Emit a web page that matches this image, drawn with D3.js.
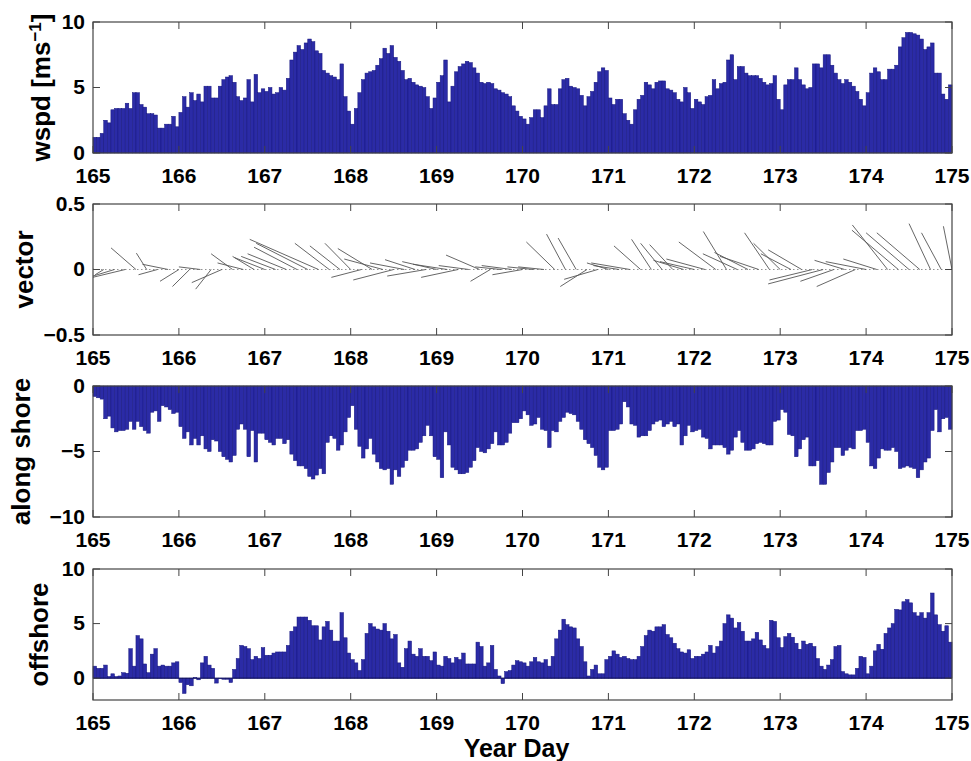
<!DOCTYPE html>
<html>
<head>
<meta charset="utf-8">
<script src="https://cdn.jsdelivr.net/npm/d3@7/dist/d3.min.js"></script>
<style>
body { margin: 0; background: #fff; }
svg { display: block; font-family: "Liberation Sans", Arial, Helvetica, sans-serif; font-weight: bold; }
</style>
</head>
<body>
<div id="chart"></div>
<script>
// hourly records, year day 165 to 175, one row per day
var startDay = 165, perDay = 24;
var dayTicks = [165, 166, 167, 168, 169, 170, 171, 172, 173, 174, 175];

var wspd = [
  1.2,1.2,1.5,2.5,2.3,3.3,3.4,3.4,3.4,3.8,3.4,4.6,4.6,3.7,3.5,3.0,3.0,2.9,1.9,1.9,2.2,2.2,2.8,2.0,
  3.1,4.3,3.5,4.6,4.0,4.5,3.9,5.1,5.1,4.2,4.2,5.1,5.6,5.8,5.9,5.4,4.3,4.0,4.2,5.6,3.9,6.0,4.6,4.9,
  4.7,5.0,4.5,4.6,5.0,4.8,5.7,7.1,7.7,8.2,7.9,8.4,8.7,8.5,7.8,7.6,6.3,6.1,5.9,5.8,5.6,6.8,4.3,3.2,
  2.2,3.4,4.6,5.6,6.1,6.2,6.3,6.7,7.2,8.0,7.6,8.2,7.3,7.0,6.3,5.6,5.7,5.4,5.2,5.1,5.0,4.3,3.4,4.2,
  5.4,5.9,7.1,3.9,5.1,6.2,6.6,6.8,7.0,6.9,6.5,6.1,5.4,5.3,5.4,5.3,4.9,4.8,4.6,4.5,4.3,3.6,3.2,2.8,
  2.6,2.2,2.7,3.3,3.3,2.7,3.6,4.9,3.7,3.7,4.9,5.6,5.7,5.1,5.0,4.9,4.4,3.6,4.3,4.7,5.4,6.2,6.5,6.3,
  4.2,3.7,4.1,4.1,3.0,2.5,2.2,3.3,4.1,4.4,5.4,5.2,4.9,5.4,5.5,5.5,4.9,4.8,4.6,4.1,3.9,5.0,4.6,3.4,
  4.1,3.9,3.7,4.3,4.4,5.6,4.9,5.3,5.4,7.1,7.5,5.6,6.6,6.6,6.1,5.9,5.9,5.9,5.7,5.4,5.2,5.3,5.9,4.1,
  3.3,5.2,5.6,5.6,6.5,5.6,5.2,4.9,5.0,6.8,6.8,6.5,7.5,7.5,6.7,6.1,5.6,5.3,5.6,5.4,5.1,4.7,4.1,3.6,
  4.6,6.1,6.5,6.2,5.6,5.6,6.4,6.4,6.7,8.1,8.8,9.2,9.2,9.1,9.0,8.7,7.9,8.1,8.4,6.1,6.1,4.5,4.1,5.2
];

var alongShore = [
  -0.8,-0.9,-1.0,-2.5,-2.3,-3.2,-3.5,-3.4,-3.4,-3.3,-2.7,-3.3,-2.7,-3.1,-3.4,-3.6,-2.0,-1.9,-2.7,-1.5,-1.6,-1.8,-2.1,-2.0,
  -3.1,-4.0,-3.5,-4.5,-4.0,-4.5,-3.8,-4.8,-5.0,-4.1,-4.2,-5.0,-5.4,-5.6,-5.8,-5.3,-3.3,-2.9,-3.3,-5.4,-3.4,-5.8,-3.6,-3.6,
  -4.1,-4.3,-4.5,-4.0,-4.0,-4.4,-4.1,-5.2,-5.7,-6.1,-6.1,-6.3,-6.9,-7.1,-6.8,-6.3,-6.7,-4.3,-3.8,-4.0,-4.9,-4.5,-3.5,-2.4,
  -1.5,-3.3,-4.6,-5.5,-4.8,-4.0,-5.2,-5.8,-6.3,-6.4,-6.3,-7.5,-6.4,-6.9,-6.2,-5.7,-4.9,-4.9,-4.8,-4.3,-3.8,-3.0,-3.8,-5.4,
  -5.6,-7.0,-3.5,-4.5,-6.2,-6.4,-6.7,-6.7,-6.6,-6.2,-5.7,-4.7,-5.0,-5.1,-4.8,-4.4,-3.5,-4.5,-4.5,-4.3,-3.6,-2.8,-2.8,-2.5,
  -1.9,-2.2,-3.0,-2.9,-2.4,-3.3,-3.4,-4.7,-3.4,-3.5,-2.7,-2.4,-2.0,-2.1,-2.2,-2.7,-3.3,-4.1,-4.4,-4.7,-5.3,-6.2,-6.4,-6.2,
  -3.4,-3.4,-3.3,-2.9,-1.2,-1.6,-2.9,-3.0,-3.9,-3.8,-3.8,-3.4,-2.9,-2.7,-2.6,-3.1,-2.9,-2.7,-3.1,-2.9,-4.5,-3.8,-3.0,-3.5,
  -3.4,-3.3,-3.9,-4.0,-4.8,-4.5,-4.5,-4.5,-4.7,-5.2,-4.9,-3.9,-3.4,-4.3,-4.9,-4.9,-4.8,-4.4,-4.3,-4.4,-4.5,-4.5,-2.7,-2.6,
  -1.8,-2.0,-3.7,-3.8,-5.4,-4.8,-4.1,-3.9,-6.1,-6.1,-5.7,-7.5,-7.5,-6.6,-5.8,-4.7,-4.7,-5.3,-4.9,-4.7,-4.8,-3.4,-3.4,-3.3,
  -4.3,-6.1,-6.3,-5.5,-4.8,-4.9,-4.9,-4.7,-5.0,-6.3,-6.2,-6.1,-6.2,-6.3,-7.0,-6.4,-5.8,-5.5,-3.4,-1.8,-3.5,-2.5,-2.4,-3.3
];

var offShore = [
  1.1,0.9,0.9,1.2,0.15,0.4,0.15,0.2,0.5,0.45,2.7,1.1,3.9,3.6,1.3,0.5,2.2,2.7,1.1,1.2,1.1,1.1,1.4,1.5,
  -0.4,-1.4,-0.6,-0.7,0.05,-0.15,1.4,2.0,1.2,0.9,-0.45,-0.05,-0.1,-0.1,-0.4,0.8,1.8,3.0,2.9,2.7,1.7,2.0,1.8,2.8,
  2.1,2.1,2.3,2.4,2.4,2.4,3.0,4.3,4.7,5.6,5.6,5.6,5.3,4.8,4.8,3.5,4.7,5.2,4.4,3.4,3.4,6.0,3.7,2.3,
  1.7,1.4,0.7,1.7,4.1,5.0,4.7,4.5,4.4,5.0,4.3,3.6,4.0,1.4,1.0,2.7,3.4,2.2,2.0,2.7,2.0,2.0,1.6,2.4,
  1.2,1.1,2.0,1.8,1.4,1.9,1.7,2.3,1.3,1.3,1.3,3.3,2.9,1.1,1.4,3.0,0.8,0.2,-0.5,0.6,0.7,1.2,1.6,1.5,
  1.4,1.1,1.5,1.9,1.5,1.4,1.7,1.1,2.0,3.6,4.4,5.4,4.9,4.7,4.6,3.6,2.9,1.5,0.2,0.8,1.2,0.4,0.4,1.7,
  2.0,2.5,2.2,1.9,2.0,1.8,1.7,1.7,2.0,2.9,3.9,4.4,4.3,4.7,4.7,4.9,4.0,3.7,3.2,2.7,2.4,2.3,2.6,1.8,
  2.0,2.0,2.2,2.4,3.0,2.3,2.9,3.4,5.0,5.8,5.5,4.6,5.1,4.3,3.4,3.4,3.6,4.2,3.5,3.0,2.7,5.3,5.2,3.7,
  2.8,3.8,4.1,3.75,3.2,2.65,3.4,3.1,3.2,2.9,1.8,1.1,0.8,1.2,1.7,2.9,3.0,0.6,0.4,0.3,0.3,0.9,2.0,1.9,
  0.4,1.1,2.5,3.1,2.65,4.1,4.6,5.0,6.3,6.25,7.0,7.2,6.9,6.0,5.7,6.0,5.5,6.0,7.8,5.8,4.9,4.3,4.8,3.3
];

// feather vectors every 3 hours (165.000 ... 175.000): x part in days, y part in axis units
var vecStep = 3;
var vecDx = [
  -0.02,-0.10,-0.25,-0.38,-0.29,-0.12,-0.22,-0.30,
  -0.22,-0.20,-0.25,-0.18,-0.35,-0.25,-0.30,-0.25,
  -0.35,-0.40,-0.45,-0.50,-0.60,-0.80,-0.40,-0.35,
  -0.30,-0.35,-0.40,-0.45,-0.47,-0.40,-0.35,-0.45,
  -0.40,-0.40,-0.43,-0.35,-0.39,-0.23,-0.30,-0.35,
  -0.35,-0.30,-0.30,-0.33,-0.22,-0.21,-0.31,-0.39,
  -0.25,-0.30,-0.45,-0.31,-0.23,-0.25,-0.27,-0.35,
  -0.40,-0.45,-0.43,-0.27,-0.40,-0.39,-0.45,-0.29,
  -0.31,-0.35,-0.39,-0.50,-0.64,-0.39,-0.35,-0.45,
  -0.47,-0.39,-0.41,-0.54,-0.50,-0.50,-0.25,-0.23,
  -0.10
];
var vecDy = [
  0.05,-0.04,-0.05,-0.06,0.165,0.125,-0.04,0.04,
  -0.09,-0.13,0.02,-0.15,-0.10,0.12,0.05,0.10,
  0.09,0.10,0.12,0.17,0.20,0.23,0.20,0.18,
  0.20,-0.06,0.16,0.08,-0.08,0.05,0.075,-0.05,
  0.06,0.04,-0.06,0.03,0.11,-0.09,0.02,0.03,
  -0.04,0.02,0.02,0.21,0.27,0.24,-0.13,-0.075,
  0.05,0.03,0.05,0.18,0.23,0.20,0.19,0.07,
  0.06,0.08,0.21,0.29,0.12,0.13,0.10,0.28,
  0.20,0.12,0.15,-0.08,-0.11,-0.09,0.07,-0.13,
  0.06,0.08,0.34,0.30,0.28,0.28,0.35,0.28,
  0.33
];

//LAYOUT
var W = 971, H = 761;
var left = 93, right = 952;
var panelH = 131;
var barFill = '#2b2ba6', barEdge = '#14147e';

var svg = d3.select('#chart').append('svg')
  .attr('width', W)
  .attr('height', H);

var x = d3.scaleLinear()
  .domain([165, 175])
  .range([left, right]);

function fmt(d) {
  return (d < 0 ? '\u2212' : '') + Math.abs(d);
}

function frame(top, y, yTicks, labelX, labelParts) {
  var g = svg.append('g');
  var bottom = top + panelH;

  // inward ticks, MATLAB style, on all four sides
  dayTicks.forEach(function (d) {
    g.append('line').attr('x1', x(d)).attr('x2', x(d)).attr('y1', bottom).attr('y2', bottom - 7);
    g.append('line').attr('x1', x(d)).attr('x2', x(d)).attr('y1', top).attr('y2', top + 7);
  });
  yTicks.forEach(function (v) {
    g.append('line').attr('x1', left).attr('x2', left + 7).attr('y1', y(v)).attr('y2', y(v));
    g.append('line').attr('x1', right).attr('x2', right - 7).attr('y1', y(v)).attr('y2', y(v));
  });
  g.selectAll('line').attr('stroke', '#444').attr('stroke-width', 1);

  g.append('rect')
    .attr('x', left).attr('y', top)
    .attr('width', right - left).attr('height', panelH)
    .attr('fill', 'none').attr('stroke', '#444').attr('stroke-width', 1.2);

  g.selectAll('.xt').data(dayTicks).enter().append('text')
    .attr('x', function (d) { return x(d); })
    .attr('y', bottom + 30)
    .attr('text-anchor', 'middle')
    .attr('font-size', '21px')
    .text(function (d) { return d; });

  g.selectAll('.yt').data(yTicks).enter().append('text')
    .attr('x', left - 8)
    .attr('y', function (v) { return y(v) + 6.5; })
    .attr('text-anchor', 'end')
    .attr('font-size', '21px')
    .text(fmt);

  var lab = g.append('text')
    .attr('transform', 'translate(' + labelX + ',' + (top + panelH / 2) + ') rotate(-90)')
    .attr('text-anchor', 'middle')
    .attr('font-size', '26px');
  labelParts.forEach(function (p) {
    var ts = lab.append('tspan').text(p.t);
    if (p.sup) ts.attr('baseline-shift', 'super').attr('font-size', '17px');
  });
  return g;
}

function bars(top, y, values, baseline) {
  var g = svg.append('g');
  g.selectAll('rect').data(values).enter().append('rect')
    .attr('x', function (d, i) { return x(startDay + i / perDay); })
    .attr('width', x(startDay + 1 / perDay) - x(startDay))
    .attr('y', function (d) { return Math.min(y(d), y(0)); })
    .attr('height', function (d) { return Math.abs(y(d) - y(0)); })
    .attr('fill', barFill)
    .attr('stroke', barEdge)
    .attr('stroke-width', 0.5);
  if (baseline) {
    g.append('line')
      .attr('x1', left).attr('x2', right)
      .attr('y1', y(0)).attr('y2', y(0))
      .attr('stroke', '#10105a').attr('stroke-width', 1);
  }
}

//PANEL 1 wspd
var top1 = 22;
var y1 = d3.scaleLinear().domain([0, 10]).range([top1 + panelH, top1]);
bars(top1, y1, wspd, false);
frame(top1, y1, [0, 5, 10], 50, [{t: 'wspd [ms'}, {t: '\u22121', sup: true}, {t: ']'}]);

//PANEL 2 vector (feather)
var top2 = 204;
var y2 = d3.scaleLinear().domain([-0.5, 0.5]).range([top2 + panelH, top2]);
svg.append('clipPath').attr('id', 'clip2')
  .append('rect').attr('x', left).attr('y', top2).attr('width', right - left).attr('height', panelH);
var feather = svg.append('g').attr('clip-path', 'url(#clip2)');
feather.append('line')
  .attr('x1', left).attr('x2', right)
  .attr('y1', y2(0)).attr('y2', y2(0))
  .attr('stroke', '#777').attr('stroke-width', 0.8)
  .attr('stroke-dasharray', '1.5,2.5');
feather.selectAll('.vec').data(vecDx).enter().append('line')
  .attr('x1', function (d, k) { return x(startDay + k * vecStep / perDay); })
  .attr('y1', y2(0))
  .attr('x2', function (d, k) { return x(startDay + k * vecStep / perDay + d); })
  .attr('y2', function (d, k) { return y2(vecDy[k]); })
  .attr('stroke', '#555')
  .attr('stroke-width', 0.9);
frame(top2, y2, [-0.5, 0, 0.5], 33, [{t: 'vector'}]);

//PANEL 3 along shore
var top3 = 386;
var y3 = d3.scaleLinear().domain([-10, 0]).range([top3 + panelH, top3]);
bars(top3, y3, alongShore, false);
frame(top3, y3, [-10, -5, 0], 30, [{t: 'along shore'}]);

//PANEL 4 offshore
var top4 = 569;
var y4 = d3.scaleLinear().domain([-2, 10]).range([top4 + panelH, top4]);
bars(top4, y4, offShore, true);
frame(top4, y4, [0, 5, 10], 48, [{t: 'offshore'}]);

svg.append('text')
  .attr('x', (left + right) / 2 - 6)
  .attr('y', 757)
  .attr('text-anchor', 'middle')
  .attr('font-size', '25px')
  .text('Year Day');
</script>
</body>
</html>
